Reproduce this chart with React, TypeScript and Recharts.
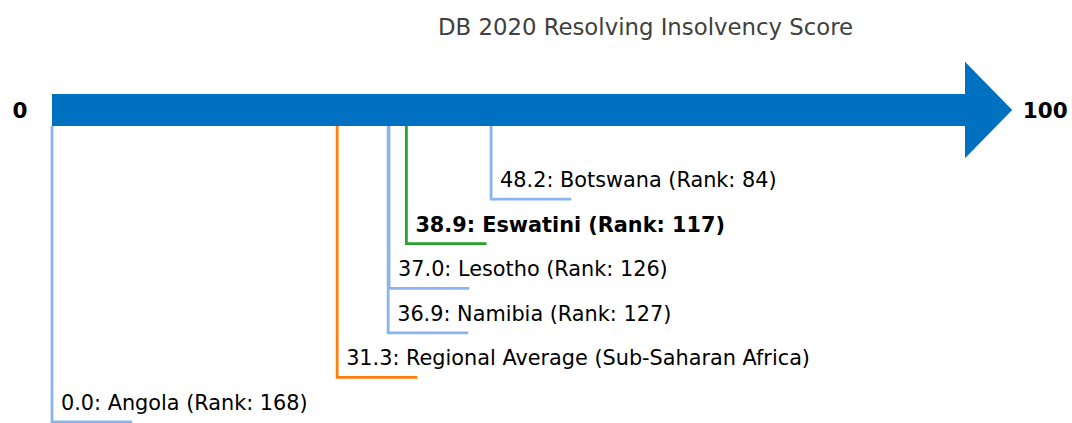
import { ComposedChart, Line, XAxis, YAxis, ReferenceArea } from 'recharts';

// scores, top row first
const scores = [48.2, 38.9, 37.0, 36.9, 31.3, 0.0];
const economies = [
  'Botswana (Rank: 84)',
  'Eswatini (Rank: 117)',
  'Lesotho (Rank: 126)',
  'Namibia (Rank: 127)',
  'Regional Average (Sub-Saharan Africa)',
  'Angola (Rank: 168)',
];
const kinds = ['peer', 'focus', 'peer', 'peer', 'region', 'peer'];
const scaleEnds = [0, 100];
const title = 'DB 2020 Resolving Insolvency Score';

const KIND_COLOR: Record<string, string> = {
  peer: '#8ab4ee',
  focus: '#2ca02c',
  region: '#ff7f0e',
};
const ARROW_COLOR = '#0070c0';
const FONT = '"DejaVu Sans", Verdana, sans-serif';
const SHAFT_HALF = 0.36; // arrow half thickness, in row units
const ELBOW = 8.8; // horizontal leg length, in score units
const FIRST_ROW = 2;

const rows = scores.map((score, i) => ({
  score,
  label: `${score.toFixed(1)}: ${economies[i]}`,
  kind: kinds[i],
  level: FIRST_ROW + i,
}));

const Arrow = (props: any) => {
  const { x, y, width, height } = props;
  const mid = y + height / 2;
  const right = x + width + 2;
  const headHalf = height * 1.5;
  const headLen = height * 1.47;
  const pts = [
    [x, y],
    [right, y],
    [right, mid - headHalf],
    [right + headLen, mid],
    [right, mid + headHalf],
    [right, y + height],
    [x, y + height],
  ]
    .map((p) => p.join(','))
    .join(' ');
  return (
    <g>
      <polygon points={pts} fill={ARROW_COLOR} />
      <text x={x - 32} y={mid} textAnchor="middle" dominantBaseline="central"
        fontFamily={FONT} fontWeight="bold" fontSize={21.5} fill="#000">
        {scaleEnds[0]}
      </text>
      <text x={right + headLen + 33} y={mid} textAnchor="middle" dominantBaseline="central"
        fontFamily={FONT} fontWeight="bold" fontSize={21.5} fill="#000">
        {scaleEnds[1]}
      </text>
    </g>
  );
};

export default function App() {
  return (
    <div style={{ position: 'absolute', left: 0, top: 0, width: 1072, height: 423, background: '#fff' }}>
      <div style={{
        position: 'absolute', left: 0, width: 1291, top: 13, textAlign: 'center',
        fontFamily: FONT, fontSize: 22.8, color: '#404040', lineHeight: '28px',
      }}>
        {title}
      </div>
      <ComposedChart width={1072} height={423} margin={{ top: 110, right: 109, bottom: 1, left: 52 }}>
        <XAxis type="number" dataKey="x" domain={[scaleEnds[0], scaleEnds[1]]} hide />
        <YAxis type="number" dataKey="y" domain={[0, 7]} reversed hide />
        {rows.map((r) => (
          <Line
            key={r.label}
            data={[
              { x: r.score, y: SHAFT_HALF },
              { x: r.score, y: r.level },
              { x: r.score + ELBOW, y: r.level },
            ]}
            dataKey="y"
            type="linear"
            stroke={KIND_COLOR[r.kind]}
            strokeWidth={2.8}
            isAnimationActive={false}
            activeDot={false}
            dot={(p: any) =>
              p.index === 1 ? (
                <text key={`t${p.index}`} x={p.cx + 9} y={p.cy - 12}
                  fontFamily={FONT} fontSize={20.8}
                  fontWeight={r.kind === 'focus' ? 'bold' : 'normal'} fill="#000">
                  {r.label}
                </text>
              ) : (
                <g key={`d${p.index}`} />
              )
            }
          />
        ))}
        <ReferenceArea
          x1={scaleEnds[0]}
          x2={scaleEnds[1]}
          y1={-SHAFT_HALF}
          y2={SHAFT_HALF}
          ifOverflow="visible"
          shape={Arrow}
        />
      </ComposedChart>
    </div>
  );
}
